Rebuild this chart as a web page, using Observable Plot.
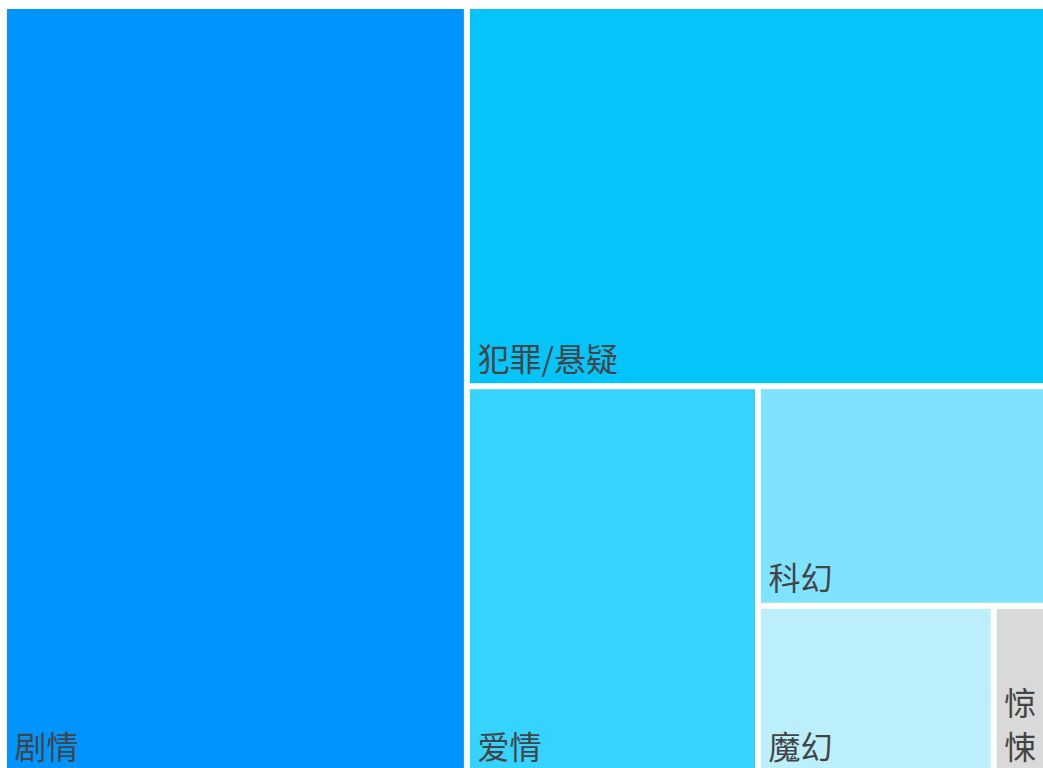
<!DOCTYPE html>
<html>
<head>
<meta charset="utf-8">
<script src="https://cdn.jsdelivr.net/npm/d3@7"></script>
<script src="https://cdn.jsdelivr.net/npm/@observablehq/plot@0.6"></script>
<style>
  html, body { margin: 0; padding: 0; background: #fff; overflow: hidden; }
  #chart svg { display: block; }
</style>
</head>
<body>
<div id="chart"></div>
<script>
const genres = ["剧情", "犯罪/悬疑", "爱情", "科幻", "魔幻", "惊悚"];
const shares = [44.4, 27.5, 14.1, 7.9, 4.95, 1.1];
const colors = ["#0094FF", "#04C4F9", "#35D3FF", "#7FE3FF", "#BBEFFC", "#D9D9D9"];

const W = 1036, H = 762;
const root = d3.hierarchy({children: genres.map((g, i) => ({name: g, value: shares[i], color: colors[i]}))})
  .sum(d => d.value || 0);
d3.treemap().size([W, H]).paddingInner(6).tile(d3.treemapSquarify.ratio(1)).round(false)(root);

const cells = root.leaves().map(l => {
  const w = l.x1 - l.x0;
  const label = w < 70 ? l.data.name.split("").join("\n") : l.data.name;
  return {name: l.data.name, label, color: l.data.color, x0: l.x0, x1: l.x1, y0: l.y0, y1: l.y1};
});

const chart = Plot.plot({
  width: 1043,
  height: 768,
  margin: 0,
  x: {domain: [0, W], range: [7, 7 + W], axis: null},
  y: {domain: [0, H], range: [9, 9 + H], axis: null},
  color: {type: "identity"},
  marks: [
    Plot.rect(cells, {x1: "x0", x2: "x1", y1: "y0", y2: "y1", fill: "color"}),
    Plot.text(cells, {
      x: "x0", y: "y1", text: "label",
      textAnchor: "start", lineAnchor: "bottom",
      dx: 7, dy: -13,
      fontSize: 32, lineHeight: 1.35,
      fill: "#444444",
      fontFamily: "'Noto Sans CJK SC', 'Noto Sans', sans-serif"
    })
  ]
});
document.getElementById("chart").appendChild(chart);
</script>
</body>
</html>
